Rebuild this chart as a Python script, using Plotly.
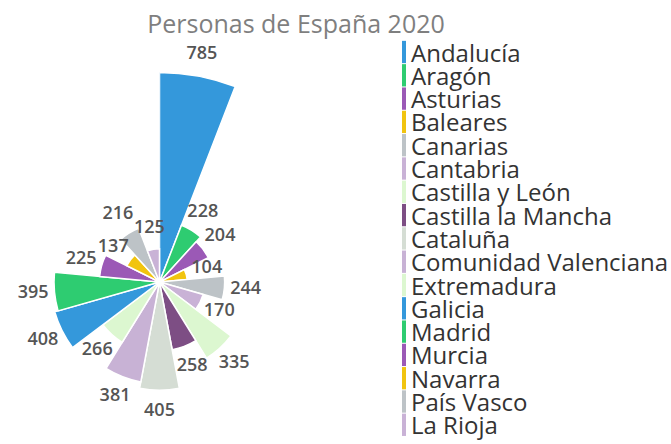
import plotly.graph_objects as go

regions = ["Andalucía", "Aragón", "Asturias", "Baleares", "Canarias", "Cantabria",
           "Castilla y León", "Castilla la Mancha", "Cataluña", "Comunidad Valenciana",
           "Extremadura", "Galicia", "Madrid", "Murcia", "Navarra", "País Vasco", "La Rioja"]
values = [785, 228, 204, 104, 244, 170, 335, 258, 405, 381, 266, 408, 395, 225, 137, 216, 125]
colors = ["#3498db", "#2ecc71", "#9b59b6", "#f1c40f", "#bdc3c7", "#c9b2d6",
          "#dcf7d0", "#7d4e84", "#d5ddd4", "#c8b2d5", "#dcf7d0", "#3498db",
          "#2ecc71", "#9b59b6", "#f1c40f", "#bdc3c7", "#c9b2d6"]
title_text = "Personas de España 2020"

W, H = 671, 444
n = len(regions)
label_offset = 80
label_font = dict(family="Open Sans", size=18, color="#555555", weight=600)

# The tallest bar lives in a quarter-sector polar subplot ("polar") sharing the
# same centre and radial scale as the full-circle polar subplot ("polar2"),
# which is drawn on top so its labels are never hidden.
big = [i for i, v in enumerate(values) if v > 500]
small = [i for i, v in enumerate(values) if v <= 500]

fig = go.Figure()
for i in range(n):
    sub = "polar" if i in big else "polar2"
    fig.add_trace(go.Barpolar(
        r=[values[i]], theta=[regions[i]], name=regions[i], subplot=sub,
        marker=dict(color=colors[i], line=dict(color="white", width=1.5)),
        showlegend=False,
    ))

for sub, idx in (("polar", big), ("polar2", small)):
    fig.add_trace(go.Scatterpolar(
        r=[values[i] + label_offset for i in idx], theta=[regions[i] for i in idx],
        mode="text", text=[str(values[i]) for i in idx], textfont=label_font,
        cliponaxis=False, showlegend=False, hoverinfo="skip", subplot=sub,
    ))

# custom legend (thin colour bars + names)
y0, step = 52, 23.3
annotations = []
shapes = []
for i, (name, c) in enumerate(zip(regions, colors)):
    yc = y0 + step * i
    annotations.append(dict(
        x=409 / W, y=1 - yc / H, xref="paper", yref="paper",
        xanchor="left", yanchor="middle", showarrow=False,
        text=name, font=dict(family="Open Sans", size=24, color="#333333"),
    ))
    shapes.append(dict(
        type="rect", xref="paper", yref="paper",
        x0=402 / W, x1=406 / W,
        y0=1 - (yc - step / 2 + 0.5) / H, y1=1 - (yc + step / 2 - 0.5) / H,
        fillcolor=c, line=dict(width=0),
    ))

cx, cy, k = 159.5, 282, 0.267          # centre (px) and px per unit
r_small, r_big = 500, 900
Rs, Rb = r_small * k, r_big * k

common_ang = dict(visible=False, direction="clockwise", rotation=90 - 180 / n,
                  categoryorder="array", categoryarray=regions, period=n)

fig.update_layout(
    width=W, height=H,
    margin=dict(l=0, r=0, t=0, b=0),
    paper_bgcolor="white",
    showlegend=False,
    title=dict(text=title_text, x=296 / W, xanchor="center", xref="paper",
               y=1 - 24 / H, yanchor="middle", yref="container",
               font=dict(family="Open Sans", size=25, color="#7f7f7f")),
    polar=dict(
        domain=dict(x=[cx / W, (cx + Rb) / W], y=[1 - cy / H, 1 - (cy - Rb) / H]),
        sector=[0, 90],
        bgcolor="rgba(0,0,0,0)",
        bargap=0,
        radialaxis=dict(range=[0, r_big], visible=False),
        angularaxis=common_ang,
    ),
    polar2=dict(
        domain=dict(x=[(cx - Rs) / W, (cx + Rs) / W], y=[1 - (cy + Rs) / H, 1 - (cy - Rs) / H]),
        bgcolor="rgba(0,0,0,0)",
        bargap=0,
        radialaxis=dict(range=[0, r_small], visible=False),
        angularaxis=common_ang,
    ),
    annotations=annotations,
    shapes=shapes,
)

fig.write_html("out.html")
